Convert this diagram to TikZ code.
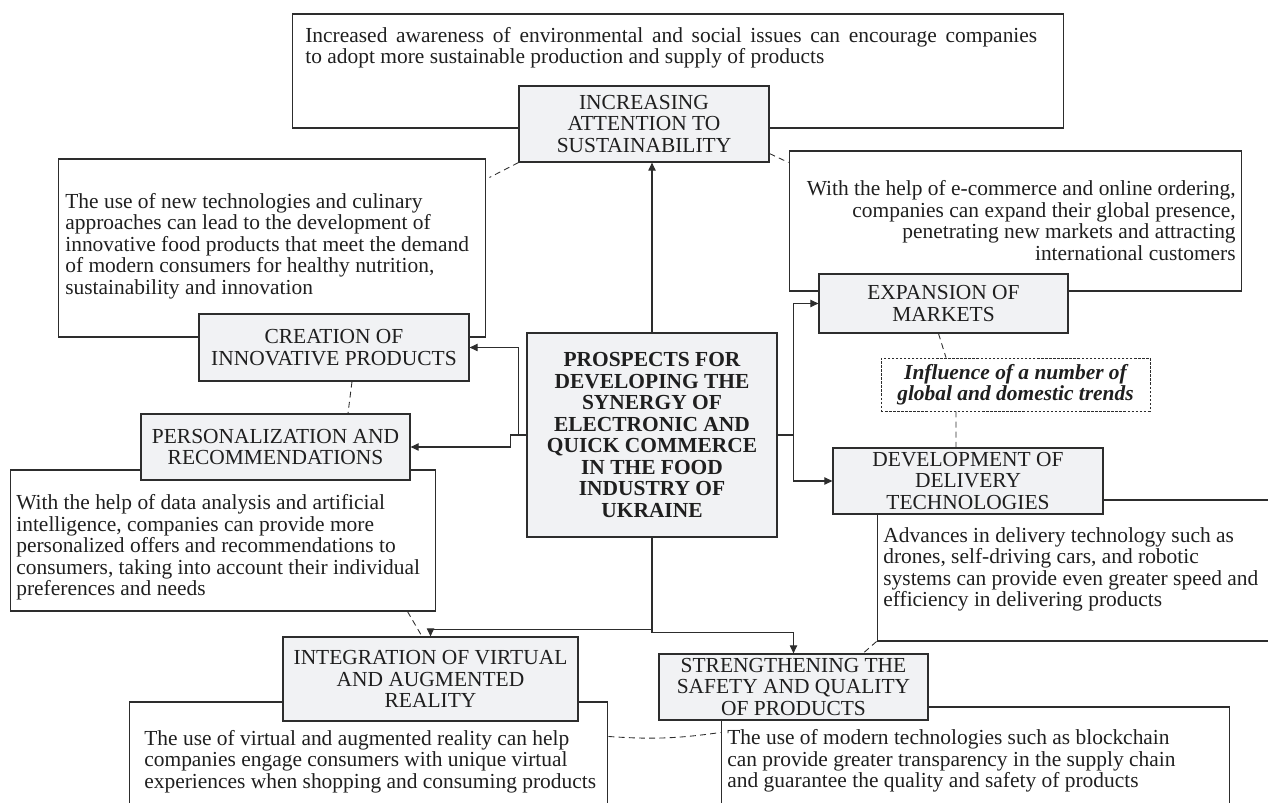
\documentclass[tikz,border=0pt]{standalone}
\usepackage{fontspec}
\setmainfont{Liberation Serif}
\usetikzlibrary{arrows.meta}
\definecolor{boxgray}{RGB}{241,242,244}
\definecolor{edgegray}{RGB}{45,45,45}
\begin{document}
\begin{tikzpicture}[x=0.02cm,y=-0.02cm,
    every node/.style={font=\fontsize{12.2}{12.2}\selectfont,text=black!88},
    titlebox/.style={draw=edgegray,fill=boxgray,line width=0.7pt,align=center,inner sep=0pt},
    notebox/.style={draw=edgegray,line width=0.6pt,inner sep=0pt},
    notetext/.style={inner sep=0pt,align=left},
    feed/.style={draw=edgegray,line width=0.6pt,-{Triangle[length=4.6pt,width=4.2pt]}},
    link/.style={draw=edgegray,line width=0.5pt,dash pattern=on 3.4pt off 2.4pt}]
     \clip (0,0) rectangle (1268,803);
     \node[notebox,minimum width=15.44cm,minimum height=2.28cm] (sustNote) at (678,71) {};
     \node[notebox,minimum width=8.56cm,minimum height=3.56cm] (creaNote) at (272,248) {};
     \node[notebox,minimum width=8.52cm,minimum height=2.82cm] (persNote) at (223,540.5) {};
     \node[notebox,minimum width=9.06cm,minimum height=2.8cm] (markNote) at (1015.5,221) {};
     \node[notebox,minimum width=8.46cm,minimum height=2.82cm] (delivNote) at (1088.5,570.5) {};
     \node[notebox,minimum width=9.58cm,minimum height=2.76cm] (virtNote) at (368.5,771) {};
     \node[notebox,minimum width=10.18cm,minimum height=2.66cm] (safeNote) at (975.5,773.5) {};
     \node[titlebox,minimum width=5cm,minimum height=1.52cm] (sust) at (644,124) {INCREASING\\ATTENTION TO\\SUSTAINABILITY};
     \node[titlebox,minimum width=5.4cm,minimum height=1.34cm] (crea) at (334,347.5) {CREATION OF\\INNOVATIVE PRODUCTS};
     \node[titlebox,minimum width=5.38cm,minimum height=1.32cm] (pers) at (275.5,447) {PERSONALIZATION AND\\RECOMMENDATIONS};
     \node[titlebox,minimum width=5cm,minimum height=4.08cm,font=\fontsize{12.2}{12.2}\selectfont\bfseries] (hub) at (652,435) {PROSPECTS FOR\\DEVELOPING THE\\SYNERGY OF\\ELECTRONIC AND\\QUICK COMMERCE\\IN THE FOOD\\INDUSTRY OF\\UKRAINE};
     \node[titlebox,minimum width=4.98cm,minimum height=1.18cm] (mark) at (943.5,303.5) {EXPANSION OF\\MARKETS};
     \node[titlebox,fill=white,line width=0.4pt,dash pattern=on 1.4pt off 0.9pt,minimum width=5.38cm,minimum height=1.06cm,font=\fontsize{12.2}{12.2}\selectfont\bfseries\itshape] (trends) at (1015.5,384.5) {Influence of a number of\\global and domestic trends};
     \node[titlebox,minimum width=5.4cm,minimum height=1.32cm] (deliv) at (968,481) {DEVELOPMENT OF\\DELIVERY\\TECHNOLOGIES};
     \node[titlebox,minimum width=5.9cm,minimum height=1.68cm] (virt) at (430.5,679) {INTEGRATION OF VIRTUAL\\AND AUGMENTED\\REALITY};
     \node[titlebox,minimum width=5.38cm,minimum height=1.32cm] (safe) at (793.5,687) {STRENGTHENING THE\\SAFETY AND QUALITY\\OF PRODUCTS};
     \node[notetext,anchor=west,text width=14.64cm,align=justify] (sustText) at (305,47.5) {Increased awareness of environmental and social issues can encourage companies\linebreak to adopt more sustainable production and supply of products};
     \node[notetext,anchor=west] (creaText) at (65,246) {The use of new technologies and culinary\\approaches can lead to the development of\\innovative food products that meet the demand\\of modern consumers for healthy nutrition,\\sustainability and innovation};
     \node[notetext,anchor=west] (persText) at (16,547.5) {With the help of data analysis and artificial\\intelligence, companies can provide more\\personalized offers and recommendations to\\consumers, taking into account their individual\\preferences and needs};
     \node[notetext,anchor=east,align=right] (markText) at (1236,220.5) {With the help of e-commerce and online ordering,\\companies can expand their global presence,\\penetrating new markets and attracting\\international customers};
     \node[notetext,anchor=west] (delivText) at (883,569.5) {Advances in delivery technology such as\\drones, self-driving cars, and robotic\\systems can provide even greater speed and\\efficiency in delivering products};
     \node[notetext,anchor=west] (virtText) at (144,761.5) {The use of virtual and augmented reality can help\\companies engage consumers with unique virtual\\experiences when shopping and consuming products};
     \node[notetext,anchor=west] (safeText) at (727,761) {The use of modern technologies such as blockchain\\can provide greater transparency in the supply chain\\and guarantee the quality and safety of products};
     \draw[feed] (hub.north) -- (hub.north |- sust.south);
     \draw[feed] (hub.west) -- ++(-8,0) |- (crea.east);
     \draw[feed] (hub.west) -- ++(-16,0) |- (pers.east);
     \draw[feed] (hub.east) -- ++(16,0) |- (mark.west);
     \draw[feed] (hub.east) -- ++(16,0) |- (deliv.west);
     \draw[feed] (hub.south) -- ++(0,92) -| (virt.north);
     \draw[feed] (hub.south) -- ++(0,95) -| (safe.north);
     \draw[link] (sust.south west) -- ([shift={(0.06cm,-0.38cm)}]creaNote.north east);
     \draw[link] ([yshift=0.18cm]sust.south east) -- ([yshift=-0.24cm]markNote.north west);
     \draw[link] ([xshift=-0.1cm]mark.south) -- ([xshift=-1.39cm]trends.north);
     \draw[link] ([xshift=-1.19cm]trends.south) -- ([xshift=-0.24cm]deliv.north);
     \draw[link] ([xshift=0.36cm]crea.south) -- ([xshift=1.45cm]pers.north);
     \draw[link] ([xshift=-0.58cm]persNote.south east) -- ([xshift=-0.17cm]virt.north);
     \draw[link] (delivNote.south west) -- ([xshift=1.39cm]safe.north);
     \draw[link] ([yshift=-0.7cm]virtNote.north east) to[bend right=6] ([yshift=-0.52cm]safeNote.north west);
    \end{tikzpicture}
\end{document}
